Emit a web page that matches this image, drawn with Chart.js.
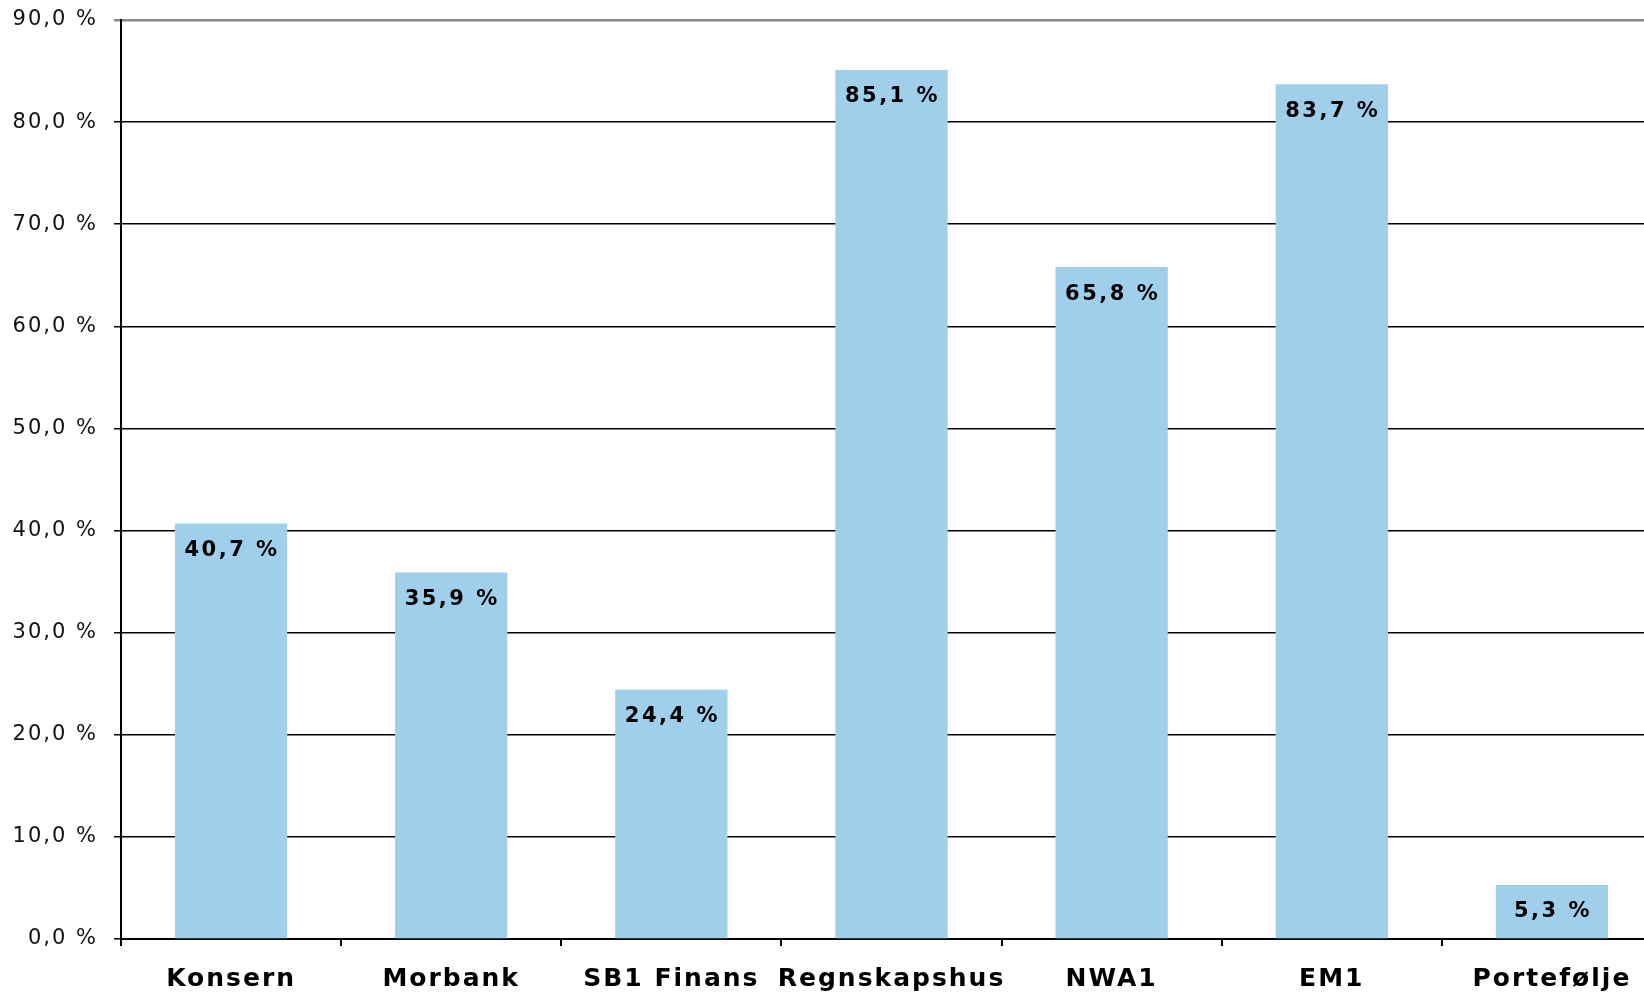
<!DOCTYPE html>
<html>
<head>
<meta charset="utf-8">
<script src="https://cdn.jsdelivr.net/npm/chart.js@4"></script>
<style>
  html, body { margin: 0; padding: 0; background: #fff; overflow: hidden; }
  #wrap { position: relative; width: 1662px; height: 994px; }
</style>
</head>
<body>
<div id="wrap"><canvas id="myChart"></canvas></div>
<script>
var categories = ['Konsern', 'Morbank', 'SB1 Finans', 'Regnskapshus', 'NWA1', 'EM1', 'Portefølje'];
var values = [40.7, 35.9, 24.4, 85.1, 65.8, 83.7, 5.3];
var yTicks = [0, 10, 20, 30, 40, 50, 60, 70, 80, 90];

function fmt(v) {
  return v.toFixed(1).replace('.', ',') + ' %';
}

// wider letter spacing like the original
var spacing = {
  id: 'spacing',
  beforeDraw: function(chart) {
    if ('letterSpacing' in chart.ctx) chart.ctx.letterSpacing = '2px';
  }
};

// labels inside the top of each bar
var barLabels = {
  id: 'barLabels',
  afterDatasetsDraw: function(chart) {
    var ctx = chart.ctx;
    var meta = chart.getDatasetMeta(0);
    ctx.save();
    ctx.font = 'bold 21px "DejaVu Sans"';
    ctx.fillStyle = '#000';
    ctx.textAlign = 'center';
    ctx.textBaseline = 'middle';
    if ('letterSpacing' in ctx) ctx.letterSpacing = '2.5px';
    meta.data.forEach(function(bar, i) {
      ctx.fillText(fmt(values[i]), bar.x + 1, bar.y + 27);
    });
    ctx.restore();
  }
};

var ctx = document.getElementById('myChart').getContext('2d');
var myChart = new Chart(ctx, {
  type: 'bar',
  data: {
    labels: categories,
    datasets: [{
      data: values,
      backgroundColor: '#A0CFEB',
      borderWidth: 0,
      barPercentage: 0.51,
      categoryPercentage: 1
    }]
  },
  options: {
    responsive: true,
    maintainAspectRatio: false,
    animation: false,
    layout: { padding: { top: 20, right: 0, left: 0, bottom: 0 } },
    plugins: { legend: { display: false }, tooltip: { enabled: false } },
    scales: {
      x: {
        grid: { drawOnChartArea: false, drawTicks: true, tickLength: 7, color: '#000', lineWidth: 2 },
        border: { color: '#000', width: 2 },
        ticks: {
          color: '#000',
          font: { family: '"DejaVu Sans"', size: 25, weight: 'bold' },
          padding: 18,
          maxRotation: 0,
          autoSkip: false
        },
        afterFit: function(scale) {
          scale.height = 55;
          scale.paddingLeft = 0;
          scale.paddingRight = 0;
        }
      },
      y: {
        min: 0,
        max: 90,
        afterBuildTicks: function(scale) {
          scale.ticks = yTicks.map(function(v) { return { value: v }; });
        },
        grid: {
          color: function(c) { return c.tick && c.tick.value === 90 ? '#8a8a8a' : '#000'; },
          lineWidth: function(c) { return c.tick && c.tick.value === 90 ? 2.5 : 1.5; },
          tickLength: 7,
          drawTicks: true
        },
        border: { color: '#000', width: 2 },
        ticks: {
          color: '#111',
          font: { family: '"DejaVu Sans"', size: 21 },
          padding: 16,
          callback: function(v) { return fmt(v); }
        },
        afterFit: function(scale) {
          scale.width = 121;
          scale.paddingTop = 0;
          scale.paddingBottom = 0;
        }
      }
    }
  },
  plugins: [spacing, barLabels]
});
</script>
</body>
</html>
